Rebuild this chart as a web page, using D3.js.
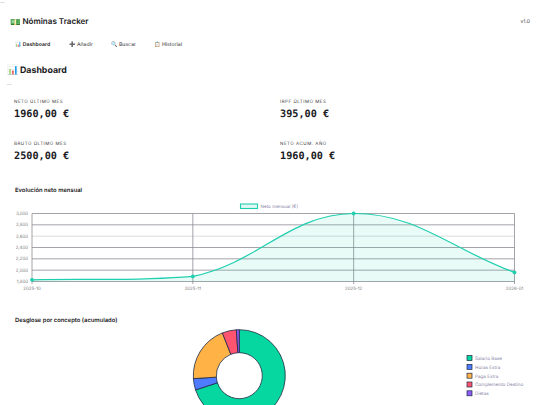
<!DOCTYPE html>
<html><head><meta charset="utf-8">
<script src="https://cdn.jsdelivr.net/npm/d3@7"></script>
<style>
html,body{margin:0;padding:0;background:#fff;overflow:hidden;width:540px;height:405px}
svg{display:block}
text{font-family:Inter,"Liberation Sans",sans-serif;text-rendering:geometricPrecision}
</style></head><body>
<svg id="c" width="540" height="405"></svg>
<script>
const months=["2025-10","2025-11","2025-12","2026-01"];
const neto=[1830,1890,3000,1960];
const yTicks=[1800,2000,2200,2400,2600,2800,3000];
const conceptos=["Salario Base","Horas Extra","Paga Extra","Complemento Destino","Dietas"];
const importes=[1750,100,500,125,25];
const colores=["#06d6a0","#4f7cff","#ffb347","#ff5470","#8b5cf6"];
const navItems=["📊 Dashboard","➕ Añadir","🔍 Buscar","📋 Historial"];
const navX=[15,69,111,154];
const kpiLabels=["NETO ÚLTIMO MES","IRPF ÚLTIMO MES","BRUTO ÚLTIMO MES","NETO ACUM. AÑO"];
const kpiValues=["1960,00 €","395,00 €","2500,00 €","1960,00 €"];

const svg=d3.select("#c");
function t(x,y,s,size,weight,fill,extra){
  const e=svg.append("text").attr("x",x).attr("y",y).text(s).attr("font-size",size).attr("font-weight",weight).attr("fill",fill);
  if(extra)extra(e);return e;
}
const ink="#1a1a22";
t(0,4,"···",5,400,"#555");
t(10.5,24.5,"💵",8.5,600,ink);
t(22.5,24,"Nóminas Tracker",8.05,600,ink);
t(530,23,"v1.0",5,500,"#666",e=>e.attr("text-anchor","end"));
navItems.forEach((s,i)=>t(navX[i],46,s,5.2,i==0?600:400,i==0?ink:"#333"));
t(7,73,"📊",9.5,700,ink);
t(20,72.5,"Dashboard",8.8,700,ink);
t(7,86,"···",5,400,"#555");
kpiLabels.forEach((s,i)=>{
  const x=i%2?280:14, yo=i<2?0:42;
  t(x,103+yo,s,4.5,400,"#444",e=>e.attr("letter-spacing",.5));
  t(x,116.5+yo,kpiValues[i],10.2,700,ink,e=>e.style("font-family","'DejaVu Sans Mono',monospace"));
});
t(15,192.3,"Evolución neto mensual",5.85,600,ink);
t(15,322.3,"Desglose por concepto (acumulado)",5.85,600,ink);

// line chart
const x=d3.scalePoint().domain(months).range([32,514.5]);
const y=d3.scaleLinear().domain([1800,3000]).range([281.5,213.5]);
const grid=svg.append("g").attr("stroke","#85858f").attr("stroke-width",.75);
grid.selectAll(".h").data(yTicks).join("line").attr("x1",32).attr("x2",514.5).attr("y1",d=>y(d)).attr("y2",d=>y(d))
  .attr("stroke",d=>d===2600?"#cfcfd4":null);
grid.selectAll(".v").data(months).join("line").attr("x1",d=>x(d)).attr("x2",d=>x(d)).attr("y1",213.5).attr("y2",284);

// Spline with tension, control points capped to the plot area
const px=months.map((m,i)=>[x(m),y(neto[i])]);
const clampY=v=>Math.max(y(3000),Math.min(y(1800),v));
const tension=0.4;
const cps=px.map((p,i)=>{
  const a=px[i-1]||p,b=px[i+1]||p;
  const d1=Math.hypot(p[0]-a[0],p[1]-a[1]),d2=Math.hypot(b[0]-p[0],b[1]-p[1]);
  const s=(d1+d2)||1,fa=tension*d1/s,fb=tension*d2/s;
  return {prev:[p[0]-fa*(b[0]-a[0]),clampY(p[1]-fa*(b[1]-a[1]))],next:[p[0]+fb*(b[0]-a[0]),clampY(p[1]+fb*(b[1]-a[1]))]};
});
function spline(){
  const pth=d3.path();
  px.forEach((p,i)=>{
    if(i===0)pth.moveTo(p[0],p[1]);
    else pth.bezierCurveTo(cps[i-1].next[0],cps[i-1].next[1],cps[i].prev[0],cps[i].prev[1],p[0],p[1]);
  });
  return pth.toString();
}
const lineD=spline();
svg.append("path").attr("fill","#06d6a0").attr("fill-opacity",.09)
  .attr("d",lineD+`L${x(months[3])},${y(1800)}L${x(months[0])},${y(1800)}Z`);
svg.append("path").attr("fill","none").attr("stroke","#1fcfb0").attr("stroke-width",1.25).attr("d",lineD);
svg.selectAll(".p").data(months).join("circle").attr("cx",d=>x(d)).attr("cy",(d,i)=>y(neto[i])).attr("r",1.9).attr("fill","#1fcfb0");
const tick="#777";
yTicks.forEach(d=>t(28,y(d)+1.6,d3.format(",")(d),4.4,400,tick,e=>e.attr("text-anchor","end")));
months.forEach(m=>t(x(m),289.5,m,4.4,400,tick,e=>e.attr("text-anchor","middle")));
svg.append("rect").attr("x",240.5).attr("y",204).attr("width",17).attr("height",4.5).attr("fill","#e0f8f3").attr("stroke","#1fcfb0").attr("stroke-width",1.1);
t(260.5,207.8,"Neto mensual (€)",4.6,400,"#8a88a8");

// donut
const pie=d3.pie().sort(null)(importes);
const arc=d3.arc().innerRadius(23).outerRadius(46);
svg.append("g").attr("transform","translate(239.3,375.7)").selectAll("path").data(pie).join("path")
  .attr("d",arc).attr("fill",(d,i)=>colores[i]).attr("stroke","#1f2a44").attr("stroke-width",.8);
conceptos.forEach((s,i)=>{
  const yy=355.6+i*8.8;
  svg.append("rect").attr("x",467).attr("y",yy).attr("width",5).attr("height",5).attr("fill",colores[i]).attr("stroke","#1f2a44").attr("stroke-width",.7);
  t(475,yy+4.3,s,4.6,400,"#8a88a8");
});
</script></body></html>
